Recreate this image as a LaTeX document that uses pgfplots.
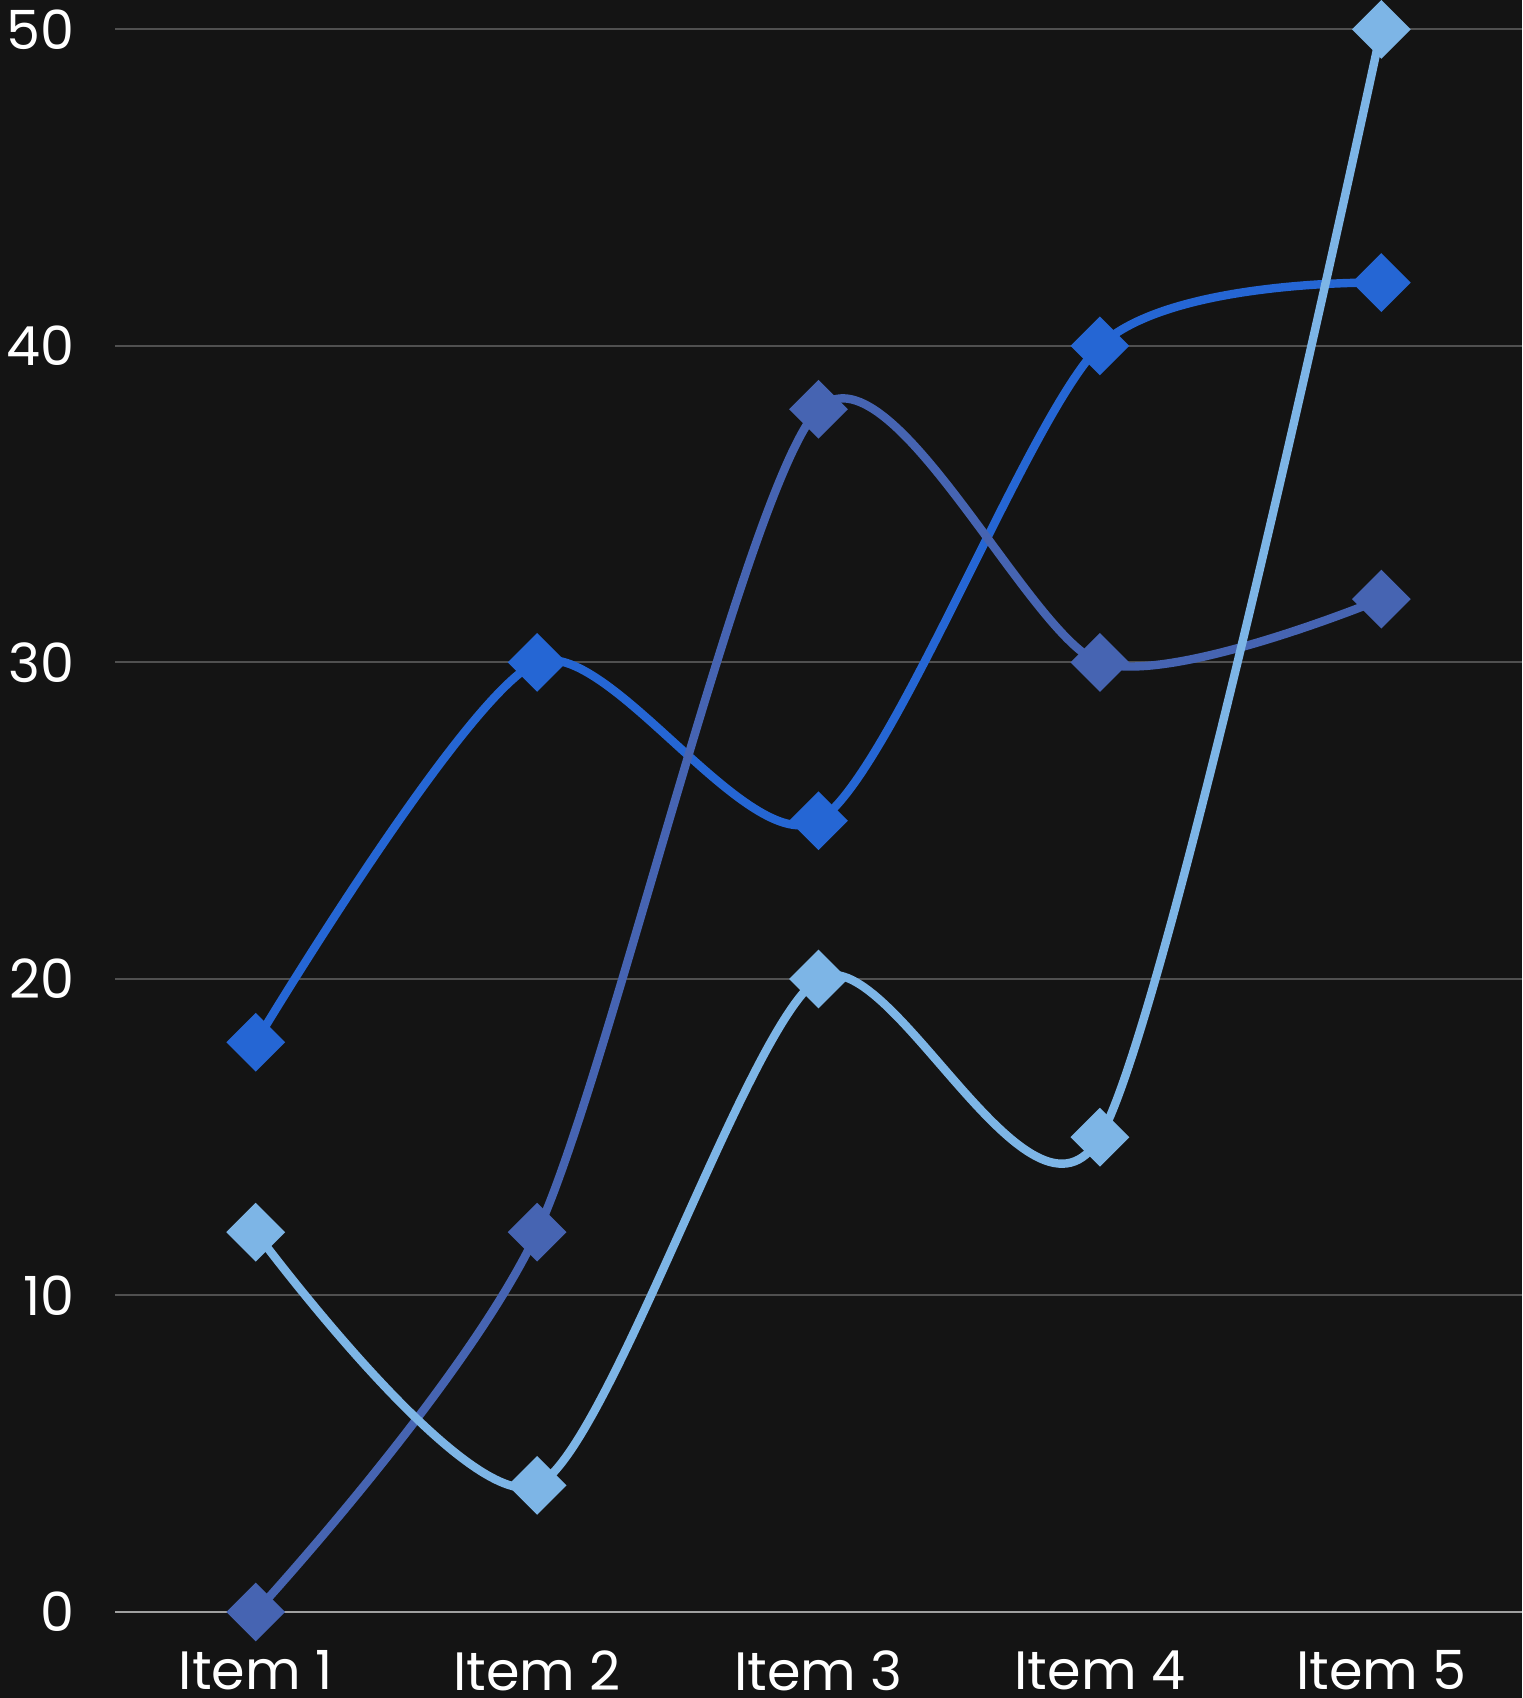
\documentclass[border=0pt]{standalone}
\usepackage{fontspec}
\setmainfont{Poppins}
\usepackage{pgfplots}
\pgfplotsset{compat=1.18}
\definecolor{bg}{HTML}{141414}
\definecolor{gridc}{HTML}{505050}
\definecolor{zeroc}{HTML}{A0A0A0}
\definecolor{sA}{HTML}{2566D4}
\definecolor{sB}{HTML}{4664B2}
\definecolor{sC}{HTML}{7DB5E6}
\begin{document}
\begin{tikzpicture}
\fill[bg] (-28.75pt,-21.5pt) rectangle (351.75pt,424.5pt-21.5pt);
\begin{axis}[
  name=ax,
  at={(0,0)}, anchor=south west,
  scale only axis,
  width=351.75pt, height=403pt,
  xmin=-0.5, xmax=4.5,
  ymin=0, ymax=50.93,
  axis line style={draw=none},
  major tick length=0pt,
  tick style={draw=none},
  xtick={0,1,2,3,4},
  xticklabels={Item 1,Item 2,Item 3,Item 4,Item 5},
  ytick={10,20,30,40,50},
  extra y ticks={0},
  extra y tick style={grid style={draw=zeroc, line width=0.55pt}},
  ymajorgrids,
  grid style={draw=gridc, line width=0.5pt},
  /pgf/number format/assume math mode=true,
  ticklabel style={font=\fontsize{13.5}{16}\selectfont, text=white},
  yticklabel style={anchor=east, inner sep=0pt, xshift=-10pt},
  xticklabel style={anchor=north, inner sep=0pt, yshift=-9.5pt},
  clip=false,
  every axis plot/.append style={line width=2.1pt, smooth, tension=0.45},
]
\addplot[sA, mark=square*, mark size=4.15pt, mark options={rotate=45, solid}] coordinates {(0,18) (1,30) (2,25) (3,40) (4,42)};
\addplot[sB, mark=square*, mark size=4.15pt, mark options={rotate=45, solid}] coordinates {(0,0) (1,12) (2,38) (3,30) (4,32)};
\addplot[sC, mark=square*, mark size=4.15pt, mark options={rotate=45, solid}] coordinates {(0,12) (1,4) (2,20) (3,15) (4,50)};
\end{axis}
\pgfresetboundingbox
\path[use as bounding box] (-28.75pt,-21.5pt) rectangle (351.75pt,424.5pt-21.5pt);
\end{tikzpicture}
\end{document}
